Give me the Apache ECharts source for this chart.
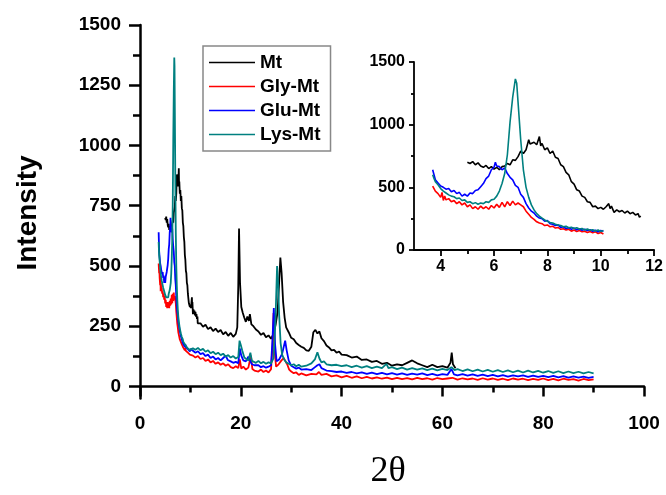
<!DOCTYPE html>
<html>
<head>
<meta charset="utf-8">
<title>XRD Mt</title>
<script src="https://cdn.jsdelivr.net/npm/echarts@6/dist/echarts.min.js"></script>
<style>
  html, body { margin: 0; padding: 0; background: #fff; }
  #chart { width: 666px; height: 495px; }
</style>
</head>
<body>
<div id="chart"></div>
<script>
// series names (legend order)
const names = ['Mt', 'Gly-Mt', 'Glu-Mt', 'Lys-Mt'];

// tick values
const mainYTicks = [0, 250, 500, 750, 1000, 1250, 1500];
const mainYMinor = [125, 375, 625, 875, 1125, 1375];
const insetXTicks = [4, 6, 8, 10, 12];
const insetXMinor = [5, 7, 9, 11];
// last 2θ each curve reaches in the inset
const insetEnd = [11.5, 10.1, 10.1, 10.1];

// [2θ, intensity]
const mt = [
  [5.0,700],[5.1,690],[5.2,705],[5.3,680],[5.4,695],[5.5,670],[5.6,660],[5.7,675],[5.8,650],[5.9,665],
  [6.0,645],[6.1,660],[6.2,640],[6.3,665],[6.4,670],[6.5,690],[6.6,680],[6.7,720],[6.8,715],[6.9,745],
  [7.0,790],[7.1,770],[7.2,800],[7.3,880],[7.35,845],[7.4,830],[7.5,860],[7.6,840],[7.7,905],[7.75,830],
  [7.8,850],[7.9,800],[8.0,815],[8.1,770],[8.2,790],[8.3,740],[8.4,730],[8.5,680],[8.6,665],[8.7,620],
  [8.8,600],[8.9,545],[9.0,525],[9.1,480],[9.2,470],[9.3,430],[9.4,420],[9.5,385],[9.6,380],[9.7,345],
  [9.8,350],[9.9,330],[10.0,340],[10.1,325],[10.2,345],[10.3,370],[10.35,330],[10.4,350],[10.5,300],[10.6,320],
  [10.7,305],[10.8,315],[10.9,295],[11.0,310],[11.1,290],[11.2,300],[11.3,280],[11.4,290],[11.45,262],[11.5,270],
  [12,262],[12.5,248],[13,256],[13.5,238],[14,246],[14.5,230],[15,240],[15.5,226],[16,234],[16.5,216],
  [17,226],[17.5,210],[18,222],[18.5,206],[19,218],[19.3,245],[19.5,420],[19.65,655],[19.85,430],[20.1,330],
  [20.4,305],[20.7,285],[21,268],[21.3,290],[21.6,272],[21.8,300],[22.1,258],[22.5,250],[23,236],[23.5,228],
  [24,214],[24.5,222],[25,204],[25.5,212],[26,198],[26.5,218],[26.9,255],[27.3,310],[27.6,430],[27.85,535],
  [28.1,470],[28.4,350],[28.7,285],[29,245],[29.5,225],[30,202],[30.5,196],[31,180],[31.5,172],[32,165],
  [32.5,160],[33,150],[33.5,148],[34,165],[34.4,225],[34.8,235],[35.2,220],[35.6,228],[36,200],[36.5,188],
  [37,170],[37.5,162],[38,150],[38.5,152],[39,140],[39.5,145],[40,132],[41,130],[42,120],[43,124],
  [44,110],[45,112],[46,102],[47,106],[48,94],[49,98],[50,86],[51,92],[52,88],[53,98],
  [54,108],[55,96],[56,88],[57,80],[58,90],[59,80],[60,84],[61,78],[61.6,98],[61.85,140],
  [62.1,92],[62.6,76]
];

const gly = [
  [3.7,510],[3.75,490],[3.8,470],[3.85,480],[3.9,450],[3.95,455],[4.0,420],[4.05,460],[4.1,395],[4.15,430],
  [4.2,400],[4.3,410],[4.4,385],[4.5,395],[4.6,370],[4.7,385],[4.8,360],[4.9,375],[5.0,345],[5.1,360],
  [5.2,330],[5.3,345],[5.4,325],[5.5,350],[5.6,330],[5.7,345],[5.8,325],[5.9,355],[6.0,335],[6.1,365],
  [6.2,340],[6.3,380],[6.4,345],[6.5,385],[6.6,355],[6.7,390],[6.8,360],[6.9,375],[7.0,360],[7.1,345],
  [7.2,310],[7.3,285],[7.4,260],[7.5,245],[7.6,225],[7.7,215],[7.8,210],[7.9,195],[8.0,200],[8.1,185],
  [8.2,190],[8.3,175],[8.4,180],[8.5,165],[8.6,170],[8.7,160],[8.8,165],[8.9,150],[9.0,160],[9.1,148],
  [9.2,155],[9.3,145],[9.4,150],[9.5,140],[9.6,148],[9.7,138],[9.8,145],[9.9,132],[10.0,140],[10.1,128],
  [10.5,128],[11,120],[11.5,126],[12,114],[12.5,118],[13,106],[13.5,112],[14,100],[14.5,106],[15,94],
  [15.5,100],[16,90],[16.5,96],[17,86],[17.5,92],[18,80],[18.5,76],[19,84],[19.5,76],[19.8,112],
  [20.1,74],[20.5,82],[21,70],[21.5,78],[22,128],[22.3,72],[22.7,66],[23,72],[23.5,62],[24,70],
  [24.5,60],[25,66],[25.5,58],[26,72],[26.3,170],[26.5,305],[26.7,150],[27,82],[27.5,92],[28,106],
  [28.5,118],[28.8,122],[29.2,92],[29.6,70],[30,62],[30.5,55],[31,58],[31.5,48],[32,54],[33,46],
  [34,52],[35,50],[35.5,60],[36,48],[37,52],[38,42],[39,46],[40,38],[41,44],[42,36],
  [43,42],[44,34],[45,40],[46,33],[47,38],[48,32],[49,37],[50,30],[51,36],[52,30],
  [53,35],[54,29],[55,36],[56,30],[57,34],[58,28],[59,35],[60,30],[61,33],[62,36],
  [63,28],[64,34],[65,29],[66,33],[67,27],[68,34],[69,28],[70,33],[71,27],[72,32],
  [73,26],[74,33],[75,28],[76,32],[77,26],[78,31],[79,27],[80,33],[81,26],[82,31],
  [83,25],[84,32],[85,27],[86,30],[87,24],[88,31],[89,26],[90,29]
];

const glu = [
  [3.7,640],[3.75,600],[3.8,560],[3.85,565],[3.9,535],[3.95,540],[4.0,510],[4.1,500],[4.2,485],[4.3,490],
  [4.4,465],[4.5,475],[4.6,450],[4.7,460],[4.8,430],[4.9,445],[5.0,430],[5.1,455],[5.2,450],[5.3,475],
  [5.4,480],[5.5,505],[5.6,530],[5.7,570],[5.8,590],[5.9,640],[6.0,660],[6.05,700],[6.1,670],[6.2,665],
  [6.3,640],[6.4,655],[6.5,610],[6.6,580],[6.7,560],[6.8,515],[6.9,500],[7.0,445],[7.1,420],[7.2,370],
  [7.3,335],[7.4,310],[7.5,295],[7.6,270],[7.7,255],[7.8,250],[7.9,230],[8.0,235],[8.1,210],[8.2,205],
  [8.3,195],[8.4,200],[8.5,180],[8.6,185],[8.7,172],[8.8,178],[8.9,165],[9.0,175],[9.1,162],[9.2,170],
  [9.3,158],[9.4,165],[9.5,155],[9.6,162],[9.7,150],[9.8,158],[9.9,145],[10.0,155],[10.1,150],
  [10.5,148],[11,140],[11.5,146],[12,134],[12.5,138],[13,126],[13.5,132],[14,118],[14.5,124],[15,112],
  [15.5,118],[16,108],[16.5,118],[17,128],[17.4,110],[18,104],[18.5,98],[19,102],[19.5,96],[19.8,158],
  [20.1,128],[20.5,108],[21,104],[21.5,124],[21.8,130],[22.2,92],[22.7,88],[23,84],[23.5,88],[24,80],
  [24.5,84],[25,78],[25.5,82],[26,88],[26.3,200],[26.55,325],[26.8,175],[27.1,104],[27.6,112],[28.2,135],
  [28.8,190],[29.1,150],[29.5,108],[30,86],[30.5,80],[31,74],[31.5,78],[32,70],[33,72],[34,68],
  [34.6,78],[35.2,88],[35.6,92],[36,76],[37,66],[38,64],[39,60],[40,62],[41,56],[42,60],
  [43,54],[44,58],[45,52],[46,57],[47,51],[48,56],[49,50],[50,55],[51,49],[52,54],
  [53,48],[54,53],[55,49],[56,54],[57,47],[58,52],[59,46],[60,51],[61,48],[61.8,72],
  [62.3,50],[63,46],[64,51],[65,45],[66,50],[67,44],[68,49],[69,43],[70,48],[71,42],
  [72,47],[73,41],[74,46],[75,42],[76,46],[77,40],[78,45],[79,40],[80,44],[81,39],
  [82,44],[83,38],[84,43],[85,37],[86,42],[87,37],[88,41],[89,36],[90,40]
];

const lys = [
  [3.7,600],[3.75,570],[3.8,545],[3.9,520],[4.0,490],[4.1,470],[4.2,455],[4.3,440],[4.4,430],[4.5,425],
  [4.6,410],[4.7,415],[4.8,395],[4.9,400],[5.0,380],[5.1,385],[5.2,370],[5.3,378],[5.4,365],[5.5,375],
  [5.6,370],[5.7,385],[5.8,380],[5.9,400],[6.0,405],[6.1,430],[6.2,470],[6.3,530],[6.4,610],[6.5,760],
  [6.6,1020],[6.7,1220],[6.8,1365],[6.85,1330],[6.9,1180],[7.0,880],[7.1,640],[7.2,500],[7.3,420],[7.4,360],
  [7.5,320],[7.6,290],[7.7,270],[7.8,255],[7.9,240],[8.0,230],[8.1,220],[8.2,215],[8.3,205],[8.4,200],
  [8.5,195],[8.6,185],[8.7,190],[8.8,178],[8.9,182],[9.0,172],[9.1,178],[9.2,168],[9.3,172],[9.4,160],
  [9.5,168],[9.6,158],[9.7,162],[9.8,152],[9.9,160],[10.0,148],[10.1,155],
  [10.5,158],[11,152],[11.5,160],[12,150],[12.5,156],[13,144],[13.5,150],[14,138],[14.5,144],[15,134],
  [15.5,140],[16,130],[16.5,136],[17,124],[17.5,130],[18,120],[18.5,126],[19,116],[19.5,122],[19.75,190],
  [20.0,172],[20.3,148],[20.7,120],[21,112],[21.5,108],[21.9,140],[22.2,106],[22.6,102],[23,98],[23.5,106],
  [24,96],[24.5,102],[25,94],[25.5,100],[26,96],[26.5,118],[26.9,290],[27.2,500],[27.4,430],[27.6,300],
  [27.9,180],[28.2,132],[28.6,112],[29,100],[29.5,94],[30,88],[30.5,92],[31,84],[31.5,90],[32,82],
  [33,86],[34,96],[34.7,112],[35.2,142],[35.6,116],[36,100],[36.5,104],[37,92],[38,88],[39,90],
  [40,84],[41,88],[42,80],[43,86],[44,78],[45,84],[46,76],[47,82],[48,76],[48.9,94],
  [49.3,76],[50,80],[51,72],[52,78],[53,70],[54,76],[55,70],[56,75],[57,68],[58,74],
  [59,67],[60,73],[61,68],[61.8,80],[62.4,68],[63,72],[64,64],[65,71],[66,63],[67,70],
  [68,62],[69,69],[70,61],[71,68],[72,60],[73,67],[74,59],[75,66],[76,58],[77,66],
  [78,58],[79,65],[80,57],[81,64],[82,56],[83,63],[84,55],[85,62],[86,55],[87,61],
  [88,54],[89,60],[90,54]
];

const colors = ['#000000', '#ff0000', '#0000ff', '#008080'];
const seriesData = [mt, gly, glu, lys];

const font = 'Liberation Sans, Arial, sans-serif';
const axisLine = { show: true, lineStyle: { color: '#000', width: 2.5 } };
const insetLine = { show: true, lineStyle: { color: '#000', width: 1.8 } };
const plain = v => String(v);

const series = [];
// main plot
seriesData.forEach((d, i) => {
  series.push({
    name: names[i], type: 'line', xAxisIndex: 0, yAxisIndex: 0,
    data: d, symbol: 'none', animation: false,
    lineStyle: { color: colors[i], width: 1.8 },
    itemStyle: { color: colors[i] }
  });
});
// inset (same scans, low-angle part only)
seriesData.forEach((d, i) => {
  series.push({
    name: names[i], type: 'line', xAxisIndex: 2, yAxisIndex: 2,
    data: d.filter(p => p[0] <= insetEnd[i]), symbol: 'none', animation: false,
    lineStyle: { color: colors[i], width: 1.6 },
    itemStyle: { color: colors[i] }
  });
});

const option = {
  backgroundColor: '#fff',
  animation: false,
  color: colors,
  legend: {
    data: names.map((n, i) => ({
      name: n,
      icon: 'rect',
      itemStyle: { color: colors[i], borderWidth: 0 }
    })),
    orient: 'vertical',
    left: 203, top: 46,
    padding: [6, 10, 6, 6],
    borderColor: '#888', borderWidth: 1.5,
    itemWidth: 46, itemHeight: 1.5, itemGap: 3,
    textStyle: { fontFamily: font, fontWeight: 'bold', fontSize: 19, color: '#000', lineHeight: 21 }
  },
  grid: [
    { left: 140, top: 25, right: 22, bottom: 96.5 },
    { left: 414, top: 62, right: 11, bottom: 245 }
  ],
  xAxis: [
    {
      gridIndex: 0, type: 'value', min: 0, max: 100, interval: 20,
      axisLine: axisLine,
      axisTick: { show: true, length: 10, lineStyle: { width: 2.5, color: '#000' } },
      minorTick: { show: true, splitNumber: 2, length: 6, lineStyle: { width: 2.5, color: '#000' } },
      axisLabel: { margin: 16, formatter: plain, fontFamily: font, fontWeight: 'bold', fontSize: 19, color: '#000' },
      splitLine: { show: false }
    },
    {
      gridIndex: 0, type: 'value', min: 0, max: 100, show: false
    },
    {
      gridIndex: 1, type: 'value', min: 3, max: 12,
      axisLine: insetLine,
      axisTick: { show: true, length: 6, customValues: insetXTicks, lineStyle: { width: 1.8, color: '#000' } },
      axisLabel: { margin: 9, customValues: insetXTicks, formatter: plain, fontFamily: font, fontWeight: 'bold', fontSize: 16, color: '#000' },
      splitLine: { show: false }
    },
    {
      gridIndex: 1, type: 'value', min: 3, max: 12, position: 'bottom',
      axisLine: { show: false },
      axisTick: { show: true, length: 4, customValues: insetXMinor, lineStyle: { width: 1.8, color: '#000' } },
      axisLabel: { show: false },
      splitLine: { show: false }
    }
  ],
  yAxis: [
    {
      gridIndex: 0, type: 'value', min: -50, max: 1500,
      axisLine: axisLine,
      axisTick: { show: true, length: 11, customValues: mainYTicks, lineStyle: { width: 2.5, color: '#000' } },
      axisLabel: { margin: 19, customValues: mainYTicks, formatter: plain, fontFamily: font, fontWeight: 'bold', fontSize: 19, color: '#000' },
      splitLine: { show: false }
    },
    {
      gridIndex: 0, type: 'value', min: -50, max: 1500, position: 'left',
      axisLine: { show: false },
      axisTick: { show: true, length: 7, customValues: mainYMinor, lineStyle: { width: 2.5, color: '#000' } },
      axisLabel: { show: false },
      splitLine: { show: false }
    },
    {
      gridIndex: 1, type: 'value', min: 0, max: 1500, interval: 500,
      axisLine: insetLine,
      axisTick: { show: true, length: 5, lineStyle: { width: 1.8, color: '#000' } },
      minorTick: { show: true, splitNumber: 2, length: 3, lineStyle: { width: 1.8, color: '#000' } },
      axisLabel: { margin: 9, formatter: plain, fontFamily: font, fontWeight: 'bold', fontSize: 16, color: '#000' },
      splitLine: { show: false }
    }
  ],
  graphic: [
    {
      type: 'text', x: 28, y: 213, rotation: Math.PI / 2,
      style: { text: 'Intensity', fontFamily: font, fontWeight: 'bold', fontSize: 28, fill: '#000', align: 'center', verticalAlign: 'middle' }
    },
    {
      type: 'text', x: 388, y: 472,
      style: { text: '2θ', fontFamily: 'Liberation Serif, Times New Roman, serif', fontSize: 36, fill: '#000', align: 'center', verticalAlign: 'middle' }
    }
  ],
  series: series
};

const chart = echarts.init(document.getElementById('chart'));
chart.setOption(option);
</script>
</body>
</html>
